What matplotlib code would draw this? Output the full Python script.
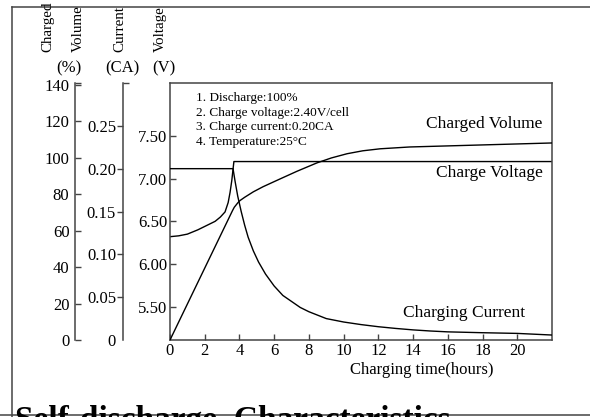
import matplotlib
matplotlib.use("Agg")
import matplotlib.pyplot as plt
from matplotlib.lines import Line2D

plt.rcParams['font.family'] = ['Liberation Serif', 'DejaVu Serif']

# charging current (CA)
t_cur = [0, 3.63, 3.75, 3.9, 4.1, 4.3, 4.5, 4.8, 5.1, 5.5, 6.0, 6.5, 7.0, 7.5,
         8.0, 9.0, 10.0, 11.0, 12.0, 13.0, 14.0, 15.0, 16.0, 18.0, 20.0, 22.0]
current = [0.200, 0.200, 0.185, 0.168, 0.150, 0.134, 0.120, 0.104, 0.091, 0.077,
           0.063, 0.052, 0.045, 0.038, 0.033, 0.025, 0.021, 0.018, 0.0155, 0.0135,
           0.0118, 0.0105, 0.0095, 0.0085, 0.0077, 0.0058]

# charge voltage (V)
t_volt = [0, 0.5, 1.0, 1.6, 2.1, 2.6, 2.9, 3.17, 3.35, 3.46, 3.56, 3.63, 3.68, 22.0]
voltage = [6.32, 6.33, 6.35, 6.40, 6.45, 6.50, 6.55, 6.61, 6.72, 6.84, 6.98, 7.11, 7.20, 7.20]

# charged volume (%)
t_vol = [0, 3.6, 3.7, 3.9, 4.03, 4.3, 4.8, 5.36, 6.3, 7.32, 8.47, 9.3, 10.2, 11.1,
         12.1, 13.8, 22.0]
volume = [0, 71.0, 72.8, 75.2, 76.5, 78.3, 81.3, 84.1, 88.2, 92.6, 97.2, 99.9,
          102.2, 103.8, 104.9, 105.9, 108.1]

x_ticks = list(range(0, 21, 2))
v_ticks = [5.5, 6.0, 6.5, 7.0, 7.5]
c_ticks = [0, 0.05, 0.10, 0.15, 0.20, 0.25]
p_ticks = list(range(0, 141, 20))

conditions = ["1. Discharge:100%", "2. Charge voltage:2.40V/cell",
              "3. Charge current:0.20CA", "4. Temperature:25\u00b0C"]

spine_col = '#444444'
fs = 12

fig = plt.figure(figsize=(5.9, 4.17), dpi=100)
ax = fig.add_axes([170/590, 77/417, 382/590, 257/417])
axc = ax.twinx()
axp = ax.twinx()

# main (voltage) axis
ax.plot(t_volt, voltage, color='black', lw=1.0)
ax.set_xlim(0, 22)
ax.set_ylim(5.11, 8.12)
ax.set_xticks(x_ticks)
ax.set_yticks(v_ticks)
ax.set_yticklabels([f"{v:.2f}" for v in v_ticks])
ax.tick_params(axis='both', direction='in', length=4, width=1, color=spine_col,
               labelsize=fs, pad=2)
ax.tick_params(axis='x', pad=2)
for s in ax.spines.values():
    s.set_color(spine_col)
    s.set_linewidth(1.1)
ax.set_xlabel("Charging time(hours)", fontsize=12)
ax.xaxis.set_label_coords(0.66, -0.085)

# current axis
axc.plot(t_cur, current, color='black', lw=1.0)
axc.set_ylim(0, 0.30)
axc.yaxis.tick_left()
axc.spines['left'].set_position(('axes', (123 - 170) / 382))
for k in ['right', 'top', 'bottom']:
    axc.spines[k].set_visible(False)
axc.spines['left'].set_color(spine_col)
axc.spines['left'].set_linewidth(1.1)
axc.set_yticks(c_ticks)
axc.set_yticklabels(["0"] + [f"{c:.2f}" for c in c_ticks[1:]])
axc.set_yticks([0, 0.30], minor=True)
axc.tick_params(axis='y', which='major', direction='out', length=4, width=1,
                color=spine_col, labelsize=fs, pad=1)
axc.tick_params(axis='y', which='minor', direction='in', length=4, width=1,
                color=spine_col)
axc.yaxis.get_major_ticks()[0].tick1line.set_visible(False)

# charged volume axis
axp.plot(t_vol, volume, color='black', lw=1.0)
axp.set_ylim(0, 141)
axp.yaxis.tick_left()
axp.spines['left'].set_position(('axes', (75 - 170) / 382))
for k in ['right', 'top', 'bottom']:
    axp.spines[k].set_visible(False)
axp.spines['left'].set_color(spine_col)
axp.spines['left'].set_linewidth(1.1)
axp.set_yticks(p_ticks)
axp.set_yticks([141], minor=True)
axp.tick_params(axis='y', which='both', direction='in', length=4, width=1,
                color=spine_col, labelsize=fs, pad=4)

# texts inside plot
ax.text(0.068, 0.966, "\n".join(conditions), transform=ax.transAxes,
        ha='left', va='top', fontsize=9.5, linespacing=1.32)
ax.text(0.976, 0.840, "Charged Volume", transform=ax.transAxes,
        ha='right', va='center', fontsize=12.5)
ax.text(0.976, 0.650, "Charge Voltage", transform=ax.transAxes,
        ha='right', va='center', fontsize=12.5)
ax.text(0.929, 0.105, "Charging Current", transform=ax.transAxes,
        ha='right', va='center', fontsize=12.5)

# axis headers
for x, word in [(48, "Charged"), (78, "Volume"), (120, "Current"), (160, "Voltage")]:
    fig.text(x/590, (417 - 52)/417, word, rotation=90, ha='center', va='bottom',
             fontsize=10.8)
for x, unit in [(69, "(%)"), (122, "(CA)"), (164, "(V)")]:
    fig.text(x/590, (417 - 68)/417, unit, ha='center', va='center', fontsize=fs)

# page frame
fig.add_artist(Line2D([12/590, 12/590], [0, 410/417], color=spine_col, lw=1.1))
fig.add_artist(Line2D([12/590, 1], [410/417, 410/417], color=spine_col, lw=1.1))
fig.add_artist(Line2D([0, 1], [2/417, 2/417], color=spine_col, lw=1.1))

# heading of the next section, cut by the page edge
fig.text(15/590, -12/417, "Self-discharge  Characteristics", ha='left',
         va='baseline', fontsize=24, fontweight='bold')

fig.savefig("out.png", dpi=100)
